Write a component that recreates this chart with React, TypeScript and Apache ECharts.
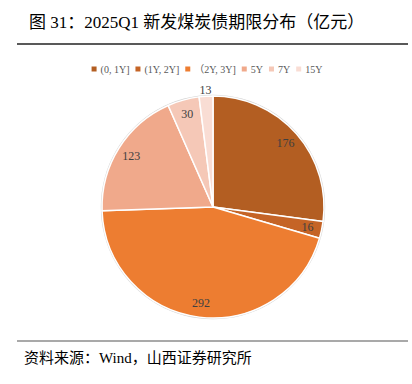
import React, { useEffect, useRef } from "react";
import * as echarts from "echarts";

const categories = ["(0, 1Y]", "(1Y, 2Y]", "（2Y, 3Y]", "5Y", "7Y", "15Y"];
const values = [176, 16, 292, 123, 30, 13];
const colors = ["#B35E22", "#C56426", "#ED7D31", "#F0A98B", "#F5C8B7", "#F9DDD4"];
const outsideLabelIndex = [5];

const TITLE = "图 31：2025Q1 新发煤炭债期限分布（亿元）";
const SOURCE = "资料来源：Wind，山西证券研究所";

export default function App() {
  const ref = useRef<HTMLDivElement>(null);
  useEffect(() => {
    document.body.style.margin = "0";
    const chart = echarts.init(ref.current!, undefined, { renderer: "svg" });
    const serif = "'Liberation Serif', 'Noto Sans CJK SC', serif";
    const center = [213, 207];
    const R = 111;
    const mainData = categories.map((c, i) => ({
      name: c,
      value: values[i],
      itemStyle: { color: colors[i] },
    }));
    const labelData = (inside: boolean) =>
      categories.map((c, i) => {
        const isOut = outsideLabelIndex.includes(i);
        return {
          name: "lbl" + i,
          value: values[i],
          label: { show: inside ? !isOut : isOut },
        };
      });
    const labelSeries = (radius: number[], inside: boolean) => ({
      type: "pie",
      center,
      radius,
      startAngle: 90,
      silent: true,
      legendHoverLink: false,
      itemStyle: { color: "rgba(0,0,0,0)", borderWidth: 0 },
      label: {
        position: "inside",
        formatter: "{c}",
        color: "#404040",
        fontSize: 12,
        fontFamily: serif,
      },
      labelLine: { show: false },
      emphasis: { disabled: true },
      data: labelData(inside),
      z: 5,
    });
    chart.setOption({
      animation: false,
      title: {
        text: TITLE,
        left: 24,
        top: 9,
        textStyle: { fontSize: 17, fontWeight: "normal", color: "#000", fontFamily: serif },
      },
      legend: {
        data: categories,
        top: 59,
        left: "center",
        icon: "rect",
        itemWidth: 7,
        itemHeight: 7,
        itemGap: 4,
        textStyle: { fontSize: 10, color: "#595959", fontFamily: serif, padding: [0, 0, 0, -2] },
        selectedMode: false,
      },
      graphic: [
        { type: "line", shape: { x1: 17, y1: 44, x2: 408, y2: 44 }, style: { stroke: "#222", lineWidth: 1.5 } },
        { type: "line", shape: { x1: 17, y1: 341, x2: 408, y2: 341 }, style: { stroke: "#8c8c8c", lineWidth: 1.5 } },
        {
          type: "text",
          left: 24,
          top: 350,
          style: { text: SOURCE, fontSize: 15, fill: "#000", fontFamily: serif },
        },
      ],
      series: [
        {
          type: "pie",
          center,
          radius: [0, R + 1.2],
          silent: true,
          itemStyle: { color: "#d4d4d4" },
          label: { show: false },
          labelLine: { show: false },
          data: [{ name: "bg", value: 1 }],
          z: 1,
        },
        {
          type: "pie",
          center,
          radius: [0, R],
          startAngle: 90,
          itemStyle: { borderColor: "#fff", borderWidth: 1.5 },
          label: { show: false },
          labelLine: { show: false },
          data: mainData,
          z: 2,
        },
        labelSeries([76, R], true),
        labelSeries([R, 118], false),
      ],
    });
    return () => chart.dispose();
  }, []);
  return <div ref={ref} style={{ width: 412, height: 384 }} />;
}
